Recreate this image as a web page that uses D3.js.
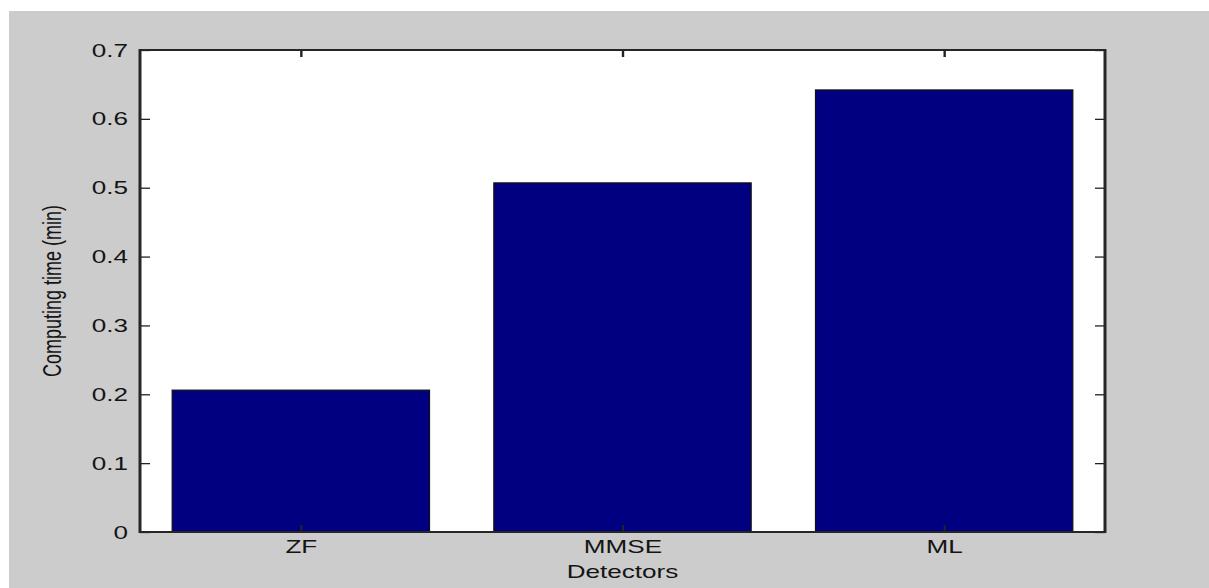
<!DOCTYPE html>
<html><head><meta charset="utf-8">
<script src="https://cdn.jsdelivr.net/npm/d3@7"></script>
<style>body{margin:0;background:#fff}svg{display:block}</style>
</head><body>
<svg id="c" width="1209" height="588"></svg>
<script>
const categories = ["ZF", "MMSE", "ML"];
const values = [0.206, 0.507, 0.642];
const yTicks = [0, 0.1, 0.2, 0.3, 0.4, 0.5, 0.6, 0.7];
const xLabel = "Detectors";
const yLabel = "Computing time (min)";

const svg = d3.select("#c");
svg.append("rect").attr("x", 9).attr("y", 11).attr("width", 1200).attr("height", 577).attr("fill", "#cccccc");

const L = 140, R = 1105, T = 50, B = 532;
const SX = 1.45; // horizontal stretch of the text
const x = d3.scaleLinear().domain([0.5, 3.5]).range([L, R]);
const y = d3.scaleLinear().domain([0, 0.7]).range([B, T]);
const bw = 0.8;
const font = "'Liberation Sans', Arial, sans-serif";
const fs = 18;
const ink = "#141414";

svg.append("rect").attr("x", L).attr("y", T).attr("width", R - L).attr("height", B - T).attr("fill", "#fff");

svg.selectAll("rect.bar").data(values).join("rect").attr("class", "bar")
  .attr("x", (d, i) => x(i + 1 - bw / 2))
  .attr("width", (d, i) => x(i + 1 + bw / 2) - x(i + 1 - bw / 2))
  .attr("y", d => y(d)).attr("height", d => B - y(d))
  .attr("fill", "#000080").attr("stroke", "#111").attr("stroke-width", 1.2);

// y ticks (left and right, inside)
const tlH = 10, tlV = 7;
const yl = svg.append("g").attr("transform", `translate(${L},0)`)
  .call(d3.axisLeft(y).tickValues(yTicks).tickFormat(d3.format("")).tickSizeInner(-tlH).tickSizeOuter(0));
yl.select(".domain").remove();
yl.selectAll("line").attr("stroke", "#222").attr("stroke-width", 1.3);
yl.selectAll("text").attr("x", null).attr("dy", null)
  .attr("transform", "translate(-12,6) scale(" + SX + ",1)")
  .attr("text-anchor", "end")
  .attr("font-family", font).attr("font-size", fs).attr("fill", ink);
const yr = svg.append("g").attr("transform", `translate(${R},0)`)
  .call(d3.axisRight(y).tickValues(yTicks).tickFormat("").tickSizeInner(-tlH).tickSizeOuter(0));
yr.select(".domain").remove();
yr.selectAll("line").attr("stroke", "#222").attr("stroke-width", 1.3);

// x ticks (bottom and top, inside)
const xb = svg.append("g").attr("transform", `translate(0,${B})`)
  .call(d3.axisBottom(x).tickValues([1, 2, 3]).tickFormat((d) => categories[d - 1]).tickSizeInner(-tlV).tickSizeOuter(0));
xb.select(".domain").remove();
xb.selectAll("line").attr("stroke", "#222").attr("stroke-width", 2);
xb.selectAll("text").attr("y", null).attr("dy", null)
  .attr("transform", "translate(0,21) scale(" + SX + ",1)")
  .attr("text-anchor", "middle")
  .attr("font-family", font).attr("font-size", fs).attr("fill", ink);
const xt = svg.append("g").attr("transform", `translate(0,${T})`)
  .call(d3.axisTop(x).tickValues([1, 2, 3]).tickFormat("").tickSizeInner(-tlV).tickSizeOuter(0));
xt.select(".domain").remove();
xt.selectAll("line").attr("stroke", "#222").attr("stroke-width", 2.4);

// frame
const fr = svg.append("g").attr("stroke", "#262626");
fr.append("line").attr("x1", L).attr("x2", R).attr("y1", T).attr("y2", T).attr("stroke-width", 2);
fr.append("line").attr("x1", L).attr("x2", R).attr("y1", B).attr("y2", B).attr("stroke-width", 2);
fr.append("line").attr("x1", L).attr("x2", L).attr("y1", T - 1).attr("y2", B + 1).attr("stroke-width", 3);
fr.append("line").attr("x1", R).attr("x2", R).attr("y1", T - 1).attr("y2", B + 1).attr("stroke-width", 3);

svg.append("text").attr("transform", `translate(${(L + R) / 2},578) scale(${SX},1)`).attr("text-anchor", "middle")
  .attr("font-family", font).attr("font-size", fs).attr("fill", ink).text(xLabel);
svg.append("text").attr("transform", `translate(61,${(T + B) / 2}) rotate(-90) scale(1,${SX})`).attr("text-anchor", "middle")
  .attr("font-family", font).attr("font-size", fs).attr("fill", ink).text(yLabel);
</script>
</body></html>
